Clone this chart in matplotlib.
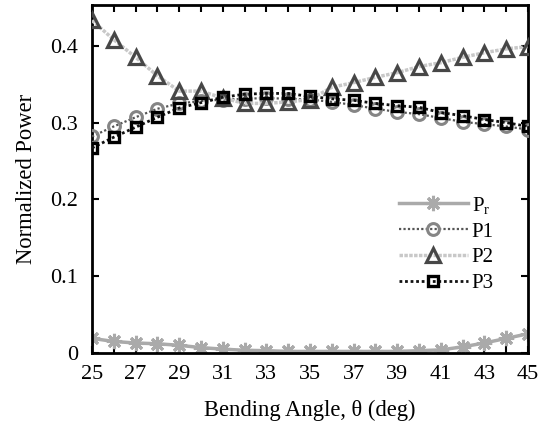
import matplotlib
matplotlib.use("Agg")
import matplotlib.pyplot as plt
from matplotlib.ticker import MultipleLocator, FixedLocator

angles = list(range(25, 46))
p_r = [0.019, 0.015, 0.013, 0.012, 0.010, 0.007, 0.005, 0.0035, 0.003, 0.002, 0.002,
       0.002, 0.002, 0.002, 0.002, 0.003, 0.004, 0.008, 0.013, 0.019, 0.025]
p1 = [0.282, 0.295, 0.307, 0.318, 0.325, 0.328, 0.330, 0.331, 0.332, 0.331, 0.330,
      0.327, 0.323, 0.318, 0.314, 0.311, 0.306, 0.301, 0.298, 0.295, 0.291]
p2 = [0.433, 0.408, 0.385, 0.361, 0.341, 0.341, 0.332, 0.325, 0.325, 0.327, 0.330,
      0.346, 0.352, 0.359, 0.365, 0.373, 0.378, 0.385, 0.391, 0.396, 0.399]
p3 = [0.267, 0.281, 0.294, 0.307, 0.319, 0.326, 0.333, 0.337, 0.338, 0.338, 0.334,
      0.331, 0.329, 0.325, 0.322, 0.320, 0.313, 0.309, 0.304, 0.300, 0.295]
xtick_labels = [25, 27, 29, 31, 33, 35, 37, 39, 41, 43, 45]
ytick_vals = [0, 0.1, 0.2, 0.3, 0.4]
ytick_labels = ["0", "0.1", "0.2", "0.3", "0.4"]

plt.rcParams['font.family'] = ['Liberation Serif', 'DejaVu Serif']
plt.rcParams['mathtext.fontset'] = 'custom'
plt.rcParams['mathtext.rm'] = 'Liberation Serif'
plt.rcParams['mathtext.it'] = 'Liberation Serif'

fig = plt.figure(figsize=(5.49, 4.26), dpi=100)
ax = fig.add_axes([0.1676, 0.1714, 0.7941, 0.8166])

ax.plot(angles, p_r, color='#aaaaaa', lw=2.5, ls='-', marker=(8, 2, 0), ms=11,
        mew=2.2, mec='#aaaaaa', label='P$_\\mathregular{r}$', zorder=2)
ax.plot(angles, p1, color='#555555', lw=1.6, ls=(0, (1, 1)), marker='o', ms=8.5,
        mew=2.2, mec='#858585', mfc='none', label='P1', zorder=3)
ax.plot(angles, p2, color='#c8c8c8', lw=2.5, ls=(0, (1, 0.4)), marker='^', ms=10,
        mew=2.3, mec='#474747', mfc='none', label='P2', zorder=4)
ax.plot(angles, p3, color='#111111', lw=2, ls=(0, (1, 1)), marker='s', ms=7.5,
        mew=2.4, mec='#000000', mfc='none', label='P3', zorder=5)

ax.set_xlim(25, 45)
ax.set_ylim(0, 0.453)
ax.xaxis.set_major_locator(FixedLocator(xtick_labels))
ax.xaxis.set_minor_locator(MultipleLocator(1))
ax.set_xticklabels([str(v) for v in xtick_labels])
ax.set_yticks(ytick_vals)
ax.set_yticklabels(ytick_labels)
ax.tick_params(which='both', direction='in', top=True, right=True, length=5,
               width=1.5, labelsize=16)
ax.tick_params(axis='x', pad=9)
ax.tick_params(axis='y', pad=10)
for s in ax.spines.values():
    s.set_linewidth(2)
for lab in ax.get_xticklabels() + ax.get_yticklabels():
    lab.set_clip_on(False)

ax.set_xlabel('Bending Angle, θ (deg)', fontsize=16.3, va='center')
ax.xaxis.set_label_coords(0.5, -0.165)
ax.set_ylabel('Normalized Power', fontsize=16.3, va='center')
ax.yaxis.set_label_coords(-0.151, 0.5)

leg = ax.legend(loc='upper left', bbox_to_anchor=(0.704, 0.455), frameon=False,
                fontsize=15, handlelength=3.3, handletextpad=0.2, labelspacing=0.3,
                borderpad=0, borderaxespad=0)
fig.savefig('out.png', dpi=100)
